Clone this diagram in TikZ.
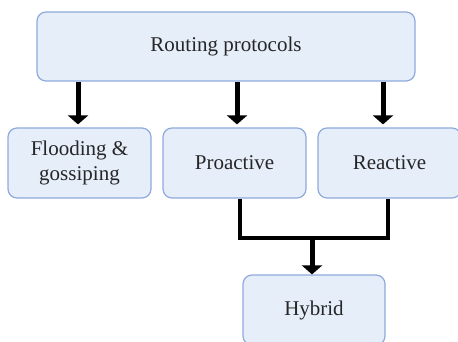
\documentclass[tikz,border=0pt]{standalone}
\usepackage{fontspec}
\setmainfont{Liberation Serif}
\usepackage{xcolor}
\usetikzlibrary{arrows.meta}
\definecolor{boxfill}{RGB}{230,238,250}
\definecolor{boxedge}{RGB}{143,170,220}

\begin{document}
\begin{tikzpicture}[x=1pt,y=-1pt,
box/.style={draw=boxedge,fill=boxfill,line width=1.2pt,rounded corners=9pt,
  minimum width=143pt,minimum height=70pt,align=center,
  font=\fontsize{21}{25}\selectfont,text=black!85},
arr/.style={line width=5pt,-{Triangle[width=20pt,length=9pt]}},
link/.style={line width=4pt}]
\useasboundingbox (0,0) rectangle (458,342);
\node[box,minimum width=378pt,minimum height=69pt](rp) at (226,46.5){Routing protocols};
\node[box](fl) at (79.5,163){Flooding \&\\ gossiping};
\node[box](pa) at (234.5,163){Proactive};
\node[box](ra) at (389.5,163){Reactive};
\node[box,minimum width=142pt](hy) at (314,310){Hybrid};
\draw[arr]([xshift=-1.5pt]fl.north |- rp.south)--([xshift=-1.5pt,yshift=3pt]fl.north);
\draw[arr]([xshift=2.5pt]pa.north |- rp.south)--([xshift=2.5pt,yshift=3pt]pa.north);
\draw[arr]([xshift=-6.5pt]ra.north |- rp.south)--([xshift=-6.5pt,yshift=3pt]ra.north);
\coordinate (j) at (312,238);
\draw[link]([xshift=5.5pt]pa.south)--([xshift=5.5pt]pa.south |- j)-|([xshift=-1.5pt]ra.south);
\draw[arr]([yshift=2pt]j)--(hy.north -| j);
\end{tikzpicture}
\end{document}
